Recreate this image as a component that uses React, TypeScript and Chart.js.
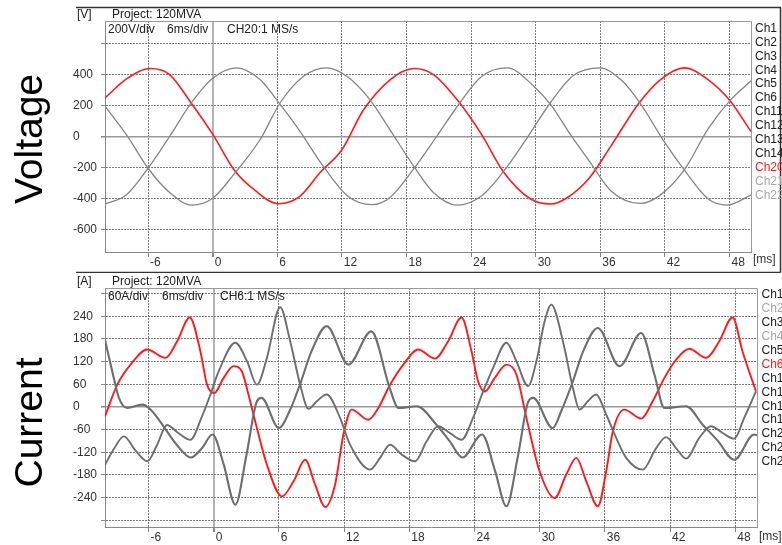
import React, { useEffect, useRef } from 'react';
import { Chart, registerables } from 'chart.js';

Chart.register(...registerables);

const FONT = "'Liberation Sans', Arial, Helvetica, sans-serif";

// ---- shared time axis ----
const msTicks = [-6, 0, 6, 12, 18, 24, 30, 36, 42, 48];

// ---- Voltage panel data ----
const voltYTicks = [-600, -400, -200, 0, 200, 400, 600];
const voltYLabels = ['-600', '-400', '-200', '0', '200', '400', ''];

const voltCh20T = [-10, -8, -5.8, -4, -2, 0, 2, 4, 6.1, 8, 10, 12, 14, 16.5, 18.7, 20.5, 22.7, 25, 27, 29.5, 31.4, 33, 35, 37, 39.6, 41.6, 43.8, 46, 48, 50];
const voltCh20V = [248, 370, 437, 398, 215, 15, -215, -350, -432, -390, -230, -85, 170, 366, 437, 398, 237, 10, -226, -400, -434, -390, -265, -60, 215, 366, 441, 366, 235, 32];

const voltGrayAT = [-10, -8, -6, -4, -1.95, 0, 2, 4.4, 6.3, 8.5, 10.6, 12.5, 14.6, 16.5, 18.7, 20.5, 22.7, 25, 27, 29, 31.4, 33.5, 36, 38, 39.7, 42, 43.8, 46, 47.8, 50];
const voltGrayAV = [195, 10, -204, -360, -441, -397, -240, -21, 220, 390, 441, 385, 237, 40, -194, -360, -441, -380, -226, -30, 220, 392, 441, 360, 215, -40, -215, -400, -441, -376];

const voltGrayBT = [-10, -8, -6, -4, -2, 0, 2.2, 4.4, 6, 8, 10.3, 12.5, 14.8, 16.5, 18.7, 20.8, 23, 25, 27.35, 29.8, 31.4, 33.2, 35, 37, 39.7, 41.5, 43.8, 46, 48.1, 50];
const voltGrayBV = [-434, -374, -204, 0, 214, 374, 441, 366, 230, 44, -194, -380, -438, -390, -205, 0, 220, 387, 441, 325, 205, 15, -160, -350, -430, -380, -215, 48, 235, 358];

const voltHeader = ['200V/div', '6ms/div', 'CH20:1 MS/s'];
const voltLegendNames = ['Ch1', 'Ch2', 'Ch3', 'Ch4', 'Ch5', 'Ch6', 'Ch11', 'Ch12', 'Ch13', 'Ch14', 'Ch20', 'Ch21', 'Ch22'];

// ---- Current panel data ----
const currYTicks = [-300, -240, -180, -120, -60, 0, 60, 120, 180, 240, 300];
const currYLabels = ['', '-240', '-180', '-120', '-60', '0', '60', '120', '180', '240', ''];

const currCh6T = [-10, -8.87, -7.65, -6.12, -4.43, -3.36, -2.2, -1.22, -0.61, 0.06, 0.92, 1.84, 2.6, 3.2, 3.98, 4.9, 6.28, 7.35, 8.42, 9.34, 10.26, 11.17, 11.94, 12.7, 14.23, 15.15, 16.23, 17.45, 18.82, 20.36, 21.58, 22.81, 23.73, 24.33, 24.95, 25.87, 26.94, 27.86, 28.78, 30.0, 31.38, 32.45, 33.37, 34.29, 35.35, 36.12, 36.73, 37.8, 39.34, 40.4, 41.48, 42.55, 43.77, 45.3, 46.53, 47.75, 48.67, 49.9];
const currCh6I = [-25, 59, 112, 152, 130, 174, 237, 147, 59, 37, 77, 108, 94, 33, -56, -153, -237, -197, -140, -206, -265, -206, -73, -7, -34, -3, 59, 112, 152, 128, 174, 237, 147, 68, 41, 77, 112, 86, -29, -171, -241, -179, -135, -197, -263, -171, -65, -7, -31, 15, 77, 125, 154, 130, 174, 237, 147, 41];

const currGrayXT = [-10, -9.2, -8.26, -7.2, -6.1, -5.2, -4.3, -3.26, -2.14, -1.13, -0.3, 0.46, 1.99, 3.07, 3.98, 4.9, 6.12, 7.04, 7.96, 8.72, 9.49, 10.4, 11.63, 12.55, 14.39, 15.31, 16.23, 17.3, 18.52, 19.6, 20.66, 21.74, 22.81, 23.87, 24.8, 25.71, 26.94, 27.86, 28.93, 29.7, 30.46, 31.07, 32.14, 33.06, 33.67, 34.43, 35.2, 36.12, 37.04, 37.96, 39.49, 40.72, 41.64, 42.55, 43.47, 44.69, 45.77, 46.83, 47.9, 48.82, 49.9];
const currGrayXI = [-153, -112, -78, -115, -144, -100, -48, -69, -87, -29, 33, 94, 170, 121, 59, 130, 264, 174, 59, -5, 15, 33, -29, -100, -166, -135, -100, -126, -144, -91, -51, -69, -87, -29, 41, 103, 170, 121, 55, 121, 227, 271, 174, 50, -7, 15, 33, -20, -82, -135, -166, -109, -80, -109, -137, -82, -51, -69, -84, -29, 41];

const currGrayYT = [-10, -9.33, -8.72, -7.95, -6.57, -5.81, -4.6, -3.4, -2.1, -1.1, -0.1, 0.9, 2.0, 3.0, 3.98, 4.4, 6.0, 7.0, 8.0, 9.0, 10.4, 12.4, 14.5, 16.2, 17.0, 18.7, 20.5, 21.7, 22.9, 24.7, 25.9, 26.94, 28.0, 28.9, 29.4, 31.2, 32.0, 33.06, 34.0, 35.35, 37.35, 39.34, 40.56, 41.48, 43.47, 45.0, 46.4, 47.9, 49.74, 50];
const currGrayYI = [178, 94, 24, -3, 6, -7, -52, -100, -134, -110, -73, -150, -259, -130, 15, 24, -56, -10, 64, 147, 214, 112, 200, 50, -3, 2, -47, -90, -134, -73, -170, -263, -130, 10, 24, -56, -10, 68, 147, 209, 108, 196, 86, -3, 2, -47, -90, -140, -73, -75];

const currHeader = ['60A/div', '6ms/div', 'CH6:1 MS/s'];
const currLegendNames = ['Ch1', 'Ch2', 'Ch3', 'Ch4', 'Ch5', 'Ch6', 'Ch11', 'Ch12', 'Ch13', 'Ch14', 'Ch20', 'Ch21', 'Ch22'];

// ---- colours ----
const RED = '#ff1a1a';
const DARK = '#222222';
const LIGHT = '#a8a8a8';
const voltLegendColors = [DARK, DARK, DARK, DARK, DARK, DARK, DARK, DARK, DARK, DARK, RED, LIGHT, LIGHT];
const currLegendColors = [DARK, LIGHT, DARK, LIGHT, DARK, RED, DARK, DARK, DARK, DARK, DARK, DARK, DARK];

const pts = (ts: number[], vs: number[]) => ts.map((t, i) => ({ x: t, y: vs[i] }));

type Deco = {
  title: string;
  titleY: number;
  unit: string;
  project: string;
  header: string[];
  headerX: number[];
  headerY: number;
  topTextY: number;
  legend: string[];
  legendColors: string[];
  legendX: number;
  legendY0: number;
  msX: number;
  msY: number;
  frameLines: boolean;
};

function decoPlugin(d: Deco) {
  return {
    id: 'deco',
    afterDraw(chart: any) {
      const { ctx, chartArea: a } = chart;
      ctx.save();
      // plot frame top & right
      ctx.strokeStyle = '#9a9a9a';
      ctx.lineWidth = 1;
      ctx.setLineDash([]);
      ctx.beginPath();
      ctx.moveTo(a.left, Math.round(a.top) + 0.5);
      ctx.lineTo(Math.round(a.right) + 0.5, Math.round(a.top) + 0.5);
      ctx.lineTo(Math.round(a.right) + 0.5, a.bottom);
      ctx.stroke();
      // panel black lines
      if (d.frameLines) {
        ctx.strokeStyle = '#333';
        ctx.lineWidth = 1.5;
        ctx.beginPath();
        ctx.moveTo(76, 7.5);
        ctx.lineTo(780.5, 7.5);
        ctx.lineTo(780.5, 272.5);
        ctx.moveTo(76, 272.5);
        ctx.lineTo(780.5, 272.5);
        ctx.stroke();
      }
      ctx.fillStyle = DARK;
      ctx.textBaseline = 'middle';
      ctx.textAlign = 'left';
      ctx.font = `12px ${FONT}`;
      ctx.fillText(d.unit, 77, d.topTextY);
      ctx.fillText(d.project, 112, d.topTextY);
      d.header.forEach((h, i) => ctx.fillText(h, d.headerX[i], d.headerY));
      ctx.fillStyle = '#333';
      ctx.fillText('[ms]', d.msX, d.msY);
      d.legend.forEach((name, i) => {
        ctx.fillStyle = d.legendColors[i];
        ctx.fillText(name, d.legendX, d.legendY0 + i * 13.9);
      });
      // rotated panel title
      ctx.fillStyle = '#000';
      ctx.font = `39px ${FONT}`;
      ctx.translate(41.5, d.titleY);
      ctx.rotate(-Math.PI / 2);
      ctx.textAlign = 'center';
      ctx.textBaseline = 'alphabetic';
      ctx.fillText(d.title, 0, 0);
      ctx.restore();
    },
  };
}

function scales(yMin: number, yMax: number, yTicks: number[], yLabels: string[], xAxisH: number) {
  const isZero = (c: any) => c.tick && c.tick.value === 0;
  return {
    x: {
      type: 'linear' as const,
      min: -10,
      max: 50,
      afterBuildTicks: (s: any) => {
        s.ticks = msTicks.map((v) => ({ value: v }));
      },
      afterFit: (s: any) => {
        s.height = xAxisH;
      },
      ticks: {
        autoSkip: false,
        maxRotation: 0,
        align: 'start' as const,
        labelOffset: 2,
        padding: -2,
        color: '#333',
        font: { family: FONT, size: 12 },
        callback: (v: any) => String(v),
      },
      grid: {
        color: (c: any) => (isZero(c) ? '#b4b4b4' : '#7c7c7c'),
        lineWidth: (c: any) => (isZero(c) ? 2 : 1),
        tickLength: 5,
        tickColor: '#888',
      },
      border: {
        display: true,
        color: '#888',
        width: 1,
        dash: (c: any) => (isZero(c) || !c.tick ? [] : [2, 1]),
      },
    },
    y: {
      type: 'linear' as const,
      min: yMin,
      max: yMax,
      afterBuildTicks: (s: any) => {
        s.ticks = yTicks.map((v) => ({ value: v }));
      },
      afterFit: (s: any) => {
        s.width = 32;
      },
      ticks: {
        autoSkip: false,
        crossAlign: 'far' as const,
        padding: 0,
        color: '#333',
        font: { family: FONT, size: 12 },
        callback: (_v: any, i: number) => yLabels[i],
      },
      grid: {
        color: (c: any) => (isZero(c) ? '#999999' : '#7c7c7c'),
        lineWidth: (c: any) => (isZero(c) ? 1.5 : 1),
        tickLength: 4,
        tickColor: '#888',
      },
      border: {
        display: true,
        color: '#888',
        width: 1,
        dash: (c: any) => (isZero(c) || !c.tick ? [] : [2, 1]),
      },
    },
  };
}

function lineDs(label: string, data: any[], color: string, width: number) {
  return {
    label,
    data,
    borderColor: color,
    backgroundColor: color,
    borderWidth: width,
    pointRadius: 0,
    cubicInterpolationMode: 'monotone' as const,
    fill: false,
  };
}

export default function App() {
  const topRef = useRef<HTMLCanvasElement | null>(null);
  const botRef = useRef<HTMLCanvasElement | null>(null);

  useEffect(() => {
    const top = new Chart(topRef.current as HTMLCanvasElement, {
      type: 'line',
      data: {
        datasets: [
          lineDs('Ch13', pts(voltGrayAT, voltGrayAV), '#858585', 1.3),
          lineDs('Ch14', pts(voltGrayBT, voltGrayBV), '#858585', 1.3),
          lineDs('Ch20', pts(voltCh20T, voltCh20V), RED, 1.6),
        ],
      },
      options: {
        responsive: false,
        animation: false,
        layout: { padding: { left: 73, right: 31, top: 21, bottom: 0 } },
        plugins: { legend: { display: false }, tooltip: { enabled: false } },
        scales: scales(-742, 742, voltYTicks, voltYLabels, 21) as any,
      },
      plugins: [
        decoPlugin({
          title: 'Voltage',
          titleY: 139,
          unit: '[V]',
          project: 'Project: 120MVA',
          header: voltHeader,
          headerX: [108, 167, 227],
          headerY: 29.5,
          topTextY: 15,
          legend: voltLegendNames,
          legendColors: voltLegendColors,
          legendX: 755,
          legendY0: 28.5,
          msX: 753,
          msY: 260,
          frameLines: true,
        }),
      ],
    });

    const bot = new Chart(botRef.current as HTMLCanvasElement, {
      type: 'line',
      data: {
        datasets: [
          lineDs('Ch1', pts(currGrayXT, currGrayXI), '#6e6e6e', 1.9),
          lineDs('Ch5', pts(currGrayYT, currGrayYI), '#6e6e6e', 2.1),
          lineDs('Ch6', pts(currCh6T, currCh6I), RED, 1.9),
        ],
      },
      options: {
        responsive: false,
        animation: false,
        layout: { padding: { left: 73, right: 25, top: 15, bottom: 0 } },
        plugins: { legend: { display: false }, tooltip: { enabled: false } },
        scales: scales(-318, 315, currYTicks, currYLabels, 18) as any,
      },
      plugins: [
        decoPlugin({
          title: 'Current',
          titleY: 149.5,
          unit: '[A]',
          project: 'Project: 120MVA',
          header: currHeader,
          headerX: [108, 162, 220],
          headerY: 24,
          topTextY: 9,
          legend: currLegendNames,
          legendColors: currLegendColors,
          legendX: 761.5,
          legendY0: 22,
          msX: 759,
          msY: 264,
          frameLines: false,
        }),
      ],
    });

    return () => {
      top.destroy();
      bot.destroy();
    };
  }, []);

  return (
    <div style={{ position: 'fixed', left: 0, top: 0, width: 782, height: 545, background: '#fff' }}>
      <canvas ref={topRef} width={782} height={273} style={{ position: 'absolute', left: 0, top: 0, display: 'block' }} />
      <canvas ref={botRef} width={782} height={272} style={{ position: 'absolute', left: 0, top: 273, display: 'block' }} />
    </div>
  );
}
